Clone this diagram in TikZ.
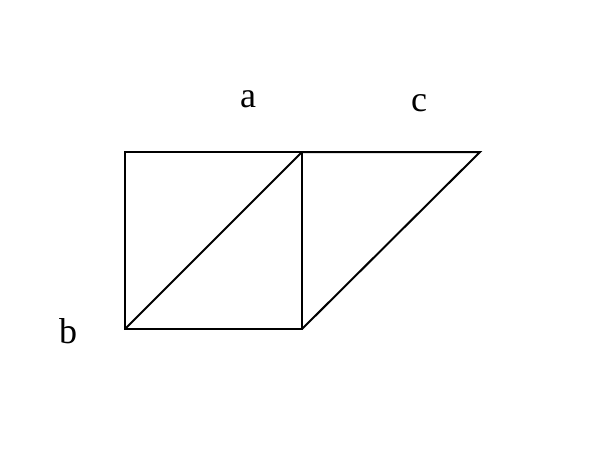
\documentclass[tikz,border=0pt]{standalone}
\usepackage{fontspec}
\setmainfont{Liberation Serif}
\tikzset{
  edge/.style={line width=1.5pt, line join=miter},
  lbl/.style={inner sep=0.75pt, font=\fontsize{27}{32}\selectfont}
}

\begin{document}
\begin{tikzpicture}[x=0.75pt,y=0.75pt,yscale=-1,xscale=1]
\useasboundingbox (0,0) rectangle (600,469);

%Corners
\coordinate (tl) at (125,152);
\coordinate (tm) at (302,152);
\coordinate (tr) at (480,152);
\coordinate (bl) at (125,329);
\coordinate (bm) at (302,329);

%Shape: Square
\draw [edge] (tl) -- (tm) -- (bm) -- (bl) -- cycle ;
%Straight Lines: diagonal
\draw [edge] (bl) -- (tm) ;
%Shape: Parallelogram part
\draw [edge] (tm) -- (tr) -- (bm) ;

% Text Node
\node [lbl] (la) at (248,99) {a};
\node [lbl] (lc) at (419,103) {c};
\node [lbl] (lb) at (68,331) {b};
\end{tikzpicture}
\end{document}
